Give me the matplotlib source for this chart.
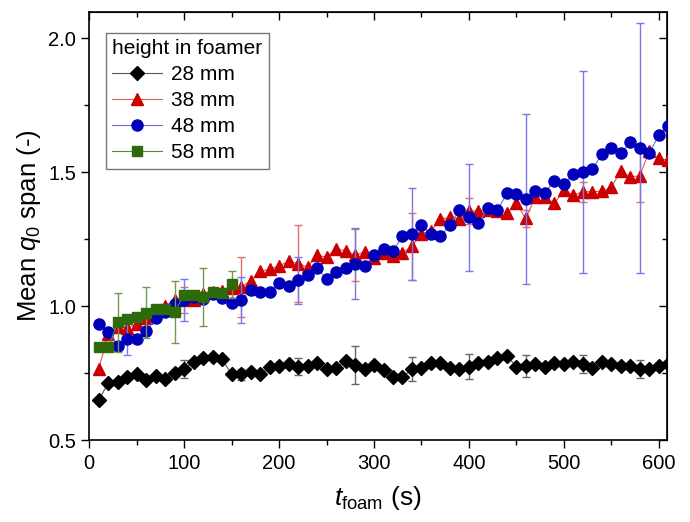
import matplotlib
matplotlib.use("Agg")
import matplotlib.pyplot as plt
from matplotlib.ticker import MultipleLocator

plt.rcParams['font.family'] = ['Liberation Sans', 'DejaVu Sans']
plt.rcParams['mathtext.fontset'] = 'custom'
plt.rcParams['mathtext.rm'] = 'Liberation Sans'
plt.rcParams['mathtext.it'] = 'Liberation Sans:italic'

# foaming time (s)
t = [10, 20, 30, 40, 50, 60, 70, 80, 90, 100,
     110, 120, 130, 140, 150, 160, 170, 180, 190, 200,
     210, 220, 230, 240, 250, 260, 270, 280, 290, 300,
     310, 320, 330, 340, 350, 360, 370, 380, 390, 400,
     410, 420, 430, 440, 450, 460, 470, 480, 490, 500,
     510, 520, 530, 540, 550, 560, 570, 580, 590, 600, 610]

# mean q0 span per height in foamer
h28 = [0.650, 0.715, 0.716, 0.737, 0.747, 0.725, 0.741, 0.729, 0.750, 0.766,
       0.793, 0.806, 0.812, 0.802, 0.746, 0.746, 0.756, 0.746, 0.772, 0.778,
       0.785, 0.775, 0.777, 0.787, 0.765, 0.769, 0.797, 0.781, 0.765, 0.781,
       0.762, 0.737, 0.735, 0.766, 0.771, 0.790, 0.787, 0.771, 0.766, 0.775,
       0.787, 0.791, 0.806, 0.815, 0.775, 0.778, 0.784, 0.775, 0.790, 0.784,
       0.793, 0.785, 0.771, 0.791, 0.784, 0.777, 0.778, 0.765, 0.766, 0.778, 0.784]
h38 = [0.767, 0.897, 0.924, 0.920, 0.934, 0.955, 0.986, 1.001, 1.024, 1.024,
       1.024, 1.046, 1.055, 1.058, 1.067, 1.071, 1.096, 1.131, 1.138, 1.151,
       1.168, 1.160, 1.147, 1.190, 1.184, 1.215, 1.207, 1.191, 1.203, 1.179,
       1.198, 1.188, 1.200, 1.225, 1.272, 1.281, 1.325, 1.332, 1.327, 1.356,
       1.356, 1.360, 1.357, 1.349, 1.384, 1.328, 1.409, 1.407, 1.384, 1.434,
       1.415, 1.428, 1.428, 1.430, 1.444, 1.506, 1.484, 1.487, 1.581, 1.552, 1.546]
h48 = [0.933, 0.905, 0.853, 0.877, 0.877, 0.908, 0.955, 0.978, 1.009, 1.024,
       1.034, 1.026, 1.046, 1.030, 1.012, 1.023, 1.061, 1.054, 1.052, 1.088,
       1.077, 1.098, 1.117, 1.144, 1.102, 1.129, 1.144, 1.160, 1.150, 1.192,
       1.213, 1.207, 1.262, 1.270, 1.303, 1.270, 1.263, 1.303, 1.359, 1.332,
       1.310, 1.369, 1.359, 1.422, 1.420, 1.400, 1.430, 1.424, 1.469, 1.455,
       1.494, 1.502, 1.512, 1.567, 1.590, 1.571, 1.612, 1.590, 1.571, 1.639, 1.673]
t58 = [10, 20, 30, 40, 50, 60, 70, 80, 90, 100, 110, 120, 130, 140, 150]
h58 = [0.847, 0.847, 0.940, 0.953, 0.961, 0.976, 0.989, 0.989, 0.980, 1.042,
       1.042, 1.036, 1.054, 1.051, 1.082]

# error bars (only every few points)
t_err = [40, 100, 160, 220, 280, 340, 400, 460, 520, 580]
e28 = [0.010, 0.035, 0.020, 0.032, 0.072, 0.044, 0.047, 0.040, 0.034, 0.034]
e38 = [0.020, 0.050, 0.112, 0.144, 0.097, 0.125, 0.050, 0.030, 0.037, 0.097]
e48 = [0.060, 0.077, 0.085, 0.088, 0.132, 0.170, 0.199, 0.317, 0.377, 0.466]
t58_err = [30, 60, 90, 120, 150]
e58 = [0.110, 0.095, 0.115, 0.109, 0.050]

series = [
    (t, h28, t_err, e28, 'D', 7.5, '#000000', '#555555', '#666666', '28 mm'),
    (t, h38, t_err, e38, '^', 8.5, '#cc0000', '#e05a5a', '#e07070', '38 mm'),
    (t, h48, t_err, e48, 'o', 8.0, '#0000bb', '#6a6ae6', '#7777ee', '48 mm'),
    (t58, h58, t58_err, e58, 's', 6.5, '#2d6a0a', '#5a8a3a', '#6f9a50', '58 mm'),
]

fig = plt.figure(figsize=(6.9, 5.22), dpi=100)
ax = fig.add_axes([0.1294, 0.1565, 0.8377, 0.8211])

handles = []
for i, (x, y, xe, ye, mk, ms, col, lcol, ecol, lab) in enumerate(series):
    ey = [y[x.index(v)] for v in xe]
    ax.errorbar(xe, ey, yerr=ye, fmt='none', ecolor=ecol, elinewidth=1.0,
                capsize=3, capthick=1.0, zorder=2 + i)
    h, = ax.plot(x, y, marker=mk, ms=ms, color=lcol, lw=0.8,
                 mfc=col, mec=col, label=lab, zorder=3 + i)
    handles.append(h)

ax.set_xlim(0, 609)
ax.set_ylim(0.5, 2.1)
ax.xaxis.set_major_locator(MultipleLocator(100))
ax.xaxis.set_minor_locator(MultipleLocator(50))
ax.yaxis.set_major_locator(MultipleLocator(0.5))
ax.yaxis.set_minor_locator(MultipleLocator(0.25))
ax.tick_params(which='both', direction='out', top=False, right=False,
               labelsize=14.5, width=1.0)
ax.tick_params(which='major', length=6)
ax.tick_params(which='minor', length=3.5)
ax.yaxis.set_major_formatter(matplotlib.ticker.FormatStrFormatter('%.1f'))

# inward ticks on top and right
top = ax.secondary_xaxis('top')
top.xaxis.set_major_locator(MultipleLocator(100))
top.xaxis.set_minor_locator(MultipleLocator(50))
top.tick_params(which='both', direction='in', labeltop=False, width=1.0)
top.tick_params(which='major', length=6)
top.tick_params(which='minor', length=3.5)
right = ax.secondary_yaxis('right')
right.yaxis.set_major_locator(MultipleLocator(0.5))
right.yaxis.set_minor_locator(MultipleLocator(0.25))
right.tick_params(which='both', direction='in', labelright=False, width=1.0)
right.tick_params(which='major', length=6)
right.tick_params(which='minor', length=3.5)

for s in ax.spines.values():
    s.set_linewidth(1.2)

ax.set_xlabel(r'$t_\mathrm{foam}$ (s)', fontsize=19, labelpad=8)
ax.set_ylabel(r'Mean $q_0$ span (-)', fontsize=18.5, labelpad=4)

leg = ax.legend(handles=handles, title='height in foamer', loc='upper left',
                bbox_to_anchor=(0.029, 0.951), borderaxespad=0,
                fontsize=15, title_fontsize=15, alignment='left',
                frameon=True, fancybox=False, edgecolor='#777777',
                framealpha=1, handlelength=2.4, handletextpad=0.4,
                labelspacing=0.34, borderpad=0.3)
leg.get_frame().set_linewidth(1.0)

fig.savefig('out.png', dpi=100)
